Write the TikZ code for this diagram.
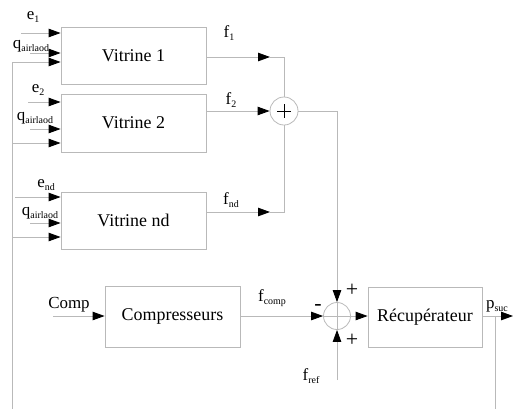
\documentclass[tikz,border=0pt]{standalone}
\usepackage{fontspec}
\setmainfont{Liberation Serif}
\usetikzlibrary{arrows.meta}
\definecolor{linegray}{RGB}{185,185,185}
\newcommand\sbs[1]{\raisebox{-0.45ex}{\fontsize{10}{10}\selectfont #1}}
\begin{document}
\begin{tikzpicture}[x=1bp,y=-1bp,
  ln/.style={draw=linegray,line width=0.8bp},
  arr/.style={ln,-{Triangle[color=black,length=12bp,width=8.5bp]}},
  blk/.style={draw=linegray,line width=0.8bp,inner sep=0pt,font=\fontsize{18}{18}\selectfont},
  sumc/.style={circle,draw=linegray,line width=0.8bp,inner sep=0pt},
  lbl/.style={inner sep=0pt,font=\fontsize{17}{17}\selectfont}]
\useasboundingbox (0,0) rectangle (513,409);
% blocks
\node[blk,minimum width=145bp,minimum height=57bp] (v1) at (133.5,55.5) {Vitrine 1};
\node[blk,minimum width=145bp,minimum height=58bp] (v2) at (133.5,123) {Vitrine 2};
\node[blk,minimum width=145bp,minimum height=57bp] (vn) at (133.5,220.5) {Vitrine nd};
\node[blk,minimum width=135bp,minimum height=61bp] (cp) at (172.5,316.5) {Compresseurs};
\node[blk,minimum width=114bp,minimum height=60bp] (rec) at (425,317) {Récupérateur};
% summing junctions
\node[sumc,minimum size=28bp] (s1) at (284,111) {};
\draw[line width=1bp] (s1.center) ++(-7,0) -- ++(14,0) (s1.center) ++(0,-7) -- ++(0,14);
\node[sumc,minimum size=27bp] (s2) at (337,316) {};
\draw[ln,line width=0.5bp] (s2.west) -- (s2.east) (s2.north) -- (s2.south);
% free-end coordinates
\coordinate (e1s) at (21,33);
\coordinate (q1s) at (30,53);
\coordinate (fb1) at (12,62);
\coordinate (e2s) at (28,102);
\coordinate (q2s) at (30,129);
\coordinate (fb2) at (12,143);
\coordinate (ens) at (15,197);
\coordinate (qns) at (30,223);
\coordinate (fbn) at (12,237);
\coordinate (fbb) at (12,409);
\coordinate (t1) at (270,57);
\coordinate (tn) at (270,212);
\coordinate (cin) at (53,316);
\coordinate (fr) at (337,380);
\coordinate (out) at (513,316);
\coordinate (pb) at (495,316);
\coordinate (pbb) at (495,409);
% vitrine inputs
\draw[arr] (e1s) -- (e1s -| v1.west);
\draw[arr] (q1s) -- (q1s -| v1.west);
\draw[arr] (fb1) -- (fb1 -| v1.west);
\draw[arr] (e2s) -- (e2s -| v2.west);
\draw[arr] (q2s) -- (q2s -| v2.west);
\draw[arr] (fb2) -- (fb2 -| v2.west);
\draw[arr] (ens) -- (ens -| vn.west);
\draw[arr] (qns) -- (qns -| vn.west);
\draw[arr] (fbn) -- (fbn -| vn.west);
\draw[ln] (fb1) -- (fbb);
% vitrine outputs
\draw[arr] (t1 -| v1.east) -- (t1);
\draw[ln] (t1) -| (s1.north);
\draw[arr] (s1 -| v2.east) -- (s1.west);
\draw[arr] (tn -| vn.east) -- (tn);
\draw[ln] (tn) -| (s1.south);
% lower part
\draw[arr] (s1.east) -| (s2.north);
\draw[arr] (cin) -- (cin -| cp.west);
\draw[arr] (s2 -| cp.east) -- (s2.west);
\draw[arr] (fr) -- (s2.south);
\draw[arr] (s2.east) -- (s2 -| rec.west);
\draw[arr] (s2 -| rec.east) -- (out);
\draw[ln] (pb) -- (pbb);
% labels
\node[lbl] (le1) at (33,17) {e\sbs{1}};
\node[lbl] (lq1) at (31,46) {q\sbs{airlaod}};
\node[lbl] (le2) at (38,90) {e\sbs{2}};
\node[lbl] (lq2) at (35,118) {q\sbs{airlaod}};
\node[lbl] (len) at (46,185) {e\sbs{nd}};
\node[lbl] (lqn) at (40,213) {q\sbs{airlaod}};
\node[lbl] (lf1) at (229,33) {f\sbs{1}};
\node[lbl] (lf2) at (231,100) {f\sbs{2}};
\node[lbl] (lfn) at (231,200) {f\sbs{nd}};
\node[lbl] (lcomp) at (69,305) {Comp};
\node[lbl] (lfc) at (272,298) {f\sbs{comp}};
\node[lbl] (lfr) at (311,376) {f\sbs{ref}};
\node[lbl] (lps) at (497,306) {p\sbs{suc}};
\node[lbl,font=\fontsize{22}{22}\selectfont] (pl1) at (352,290) {+};
\node[lbl,font=\fontsize{22}{22}\selectfont] (pl2) at (352,340) {+};
\node[lbl,font=\fontsize{22}{22}\selectfont] (mn) at (318,307) {-};
\end{tikzpicture}
\end{document}
